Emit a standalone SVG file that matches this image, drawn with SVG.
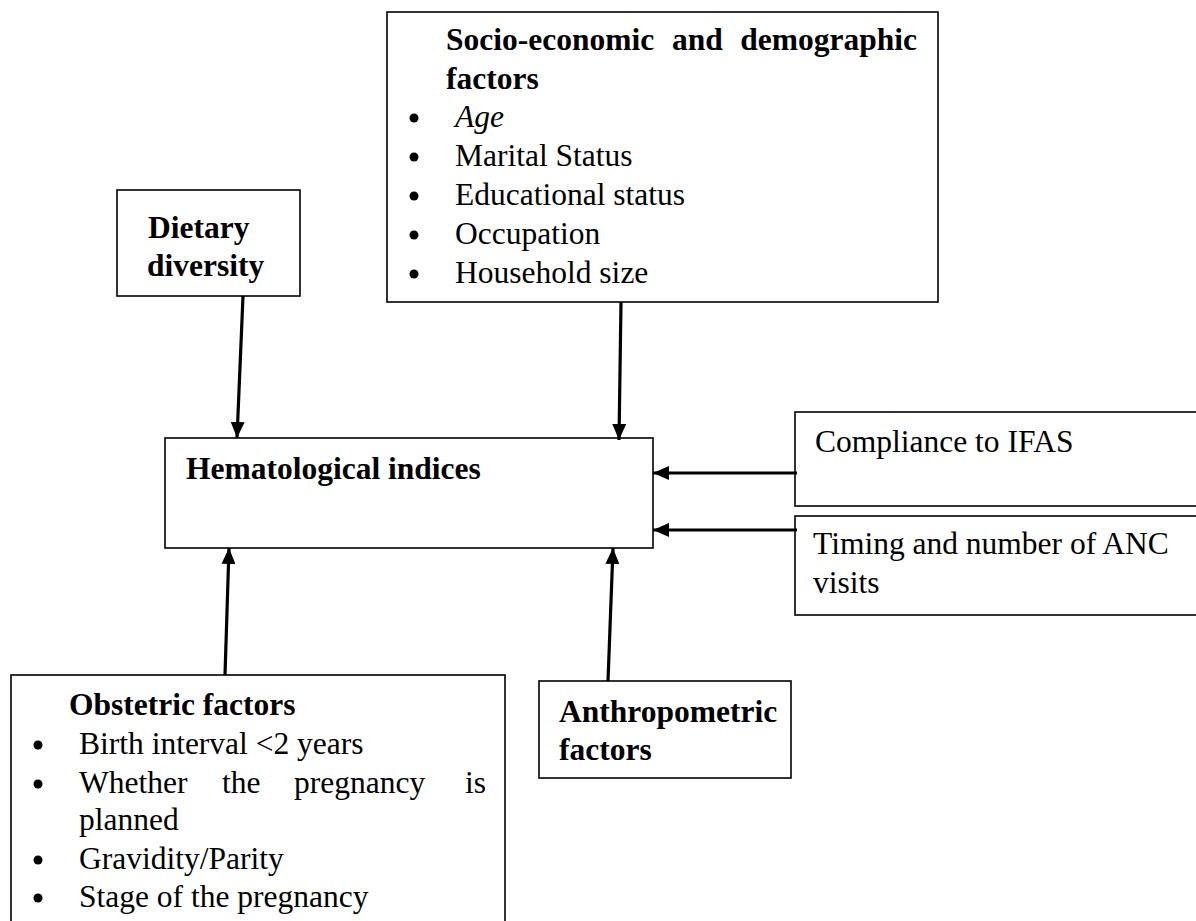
<svg xmlns="http://www.w3.org/2000/svg" width="1196" height="921" viewBox="0 0 1196 921">
<defs>
<style>
.box{fill:#fff;stroke:#000;stroke-width:1.6}
text{font-family:"Liberation Serif","Times New Roman",serif;font-size:31.5px;fill:#000}
.b{font-weight:bold}
.i{font-style:italic}
.bul{fill:#000}
.conn{stroke:#000;stroke-width:3.2;fill:none;marker-end:url(#ah)}
</style>
<marker id="ah" markerUnits="userSpaceOnUse" markerWidth="16" markerHeight="14" refX="16" refY="7" orient="auto">
<path d="M0,0 L16,7 L0,14 z" fill="#000"/>
</marker>
</defs>
<rect width="1196" height="921" fill="#fff"/>

<g id="socio">
<rect class="box" x="387" y="12" width="551" height="290"/>
<text class="b" x="446" y="50">Socio-economic</text>
<text class="b" x="672" y="50">and</text>
<text class="b" x="917" y="50" text-anchor="end">demographic</text>
<text class="b" x="446" y="88.5">factors</text>
<circle class="bul" cx="414" cy="118" r="4.5"/>
<text class="i" x="455" y="127">Age</text>
<circle class="bul" cx="414" cy="157" r="4.5"/>
<text x="455" y="166">Marital Status</text>
<circle class="bul" cx="414" cy="196" r="4.5"/>
<text x="455" y="205">Educational status</text>
<circle class="bul" cx="414" cy="235" r="4.5"/>
<text x="455" y="244">Occupation</text>
<circle class="bul" cx="414" cy="274" r="4.5"/>
<text x="455" y="283">Household size</text>
</g>

<g id="dietary">
<rect class="box" x="117" y="190" width="183" height="106"/>
<text class="b" x="148" y="238">Dietary</text>
<text class="b" x="147" y="276">diversity</text>
</g>

<g id="hematological">
<rect class="box" x="165" y="438" width="488" height="110"/>
<text class="b" x="186" y="479">Hematological indices</text>
</g>

<g id="compliance">
<rect class="box" x="795" y="412" width="410" height="94"/>
<text x="815" y="452">Compliance to IFAS</text>
</g>

<g id="timing">
<rect class="box" x="795" y="516" width="410" height="99"/>
<text x="813" y="554">Timing and number of ANC</text>
<text x="813" y="593">visits</text>
</g>

<g id="obstetric">
<rect class="box" x="11" y="675" width="494" height="260"/>
<text class="b" x="69" y="715">Obstetric factors</text>
<circle class="bul" cx="38" cy="745" r="4.5"/>
<text x="79" y="754">Birth interval &lt;2 years</text>
<circle class="bul" cx="38" cy="784" r="4.5"/>
<text x="79" y="793">Whether</text>
<text x="222" y="793">the</text>
<text x="294" y="793">pregnancy</text>
<text x="486" y="793" text-anchor="end">is</text>
<text x="79" y="830">planned</text>
<circle class="bul" cx="38" cy="860" r="4.5"/>
<text x="79" y="869">Gravidity/Parity</text>
<circle class="bul" cx="38" cy="898" r="4.5"/>
<text x="79" y="907">Stage of the pregnancy</text>
</g>

<g id="anthropometric">
<rect class="box" x="539" y="681" width="252" height="97"/>
<text class="b" x="559" y="722">Anthropometric</text>
<text class="b" x="559" y="760">factors</text>
</g>

<g id="connectors">
<line class="conn" x1="243" y1="296" x2="237" y2="438"/>
<line class="conn" x1="621" y1="302" x2="619" y2="440"/>
<line class="conn" x1="797" y1="473" x2="653" y2="473"/>
<line class="conn" x1="797" y1="530" x2="653" y2="530"/>
<line class="conn" x1="225" y1="675" x2="229" y2="548"/>
<line class="conn" x1="608" y1="681" x2="613" y2="548"/>
</g>
</svg>
